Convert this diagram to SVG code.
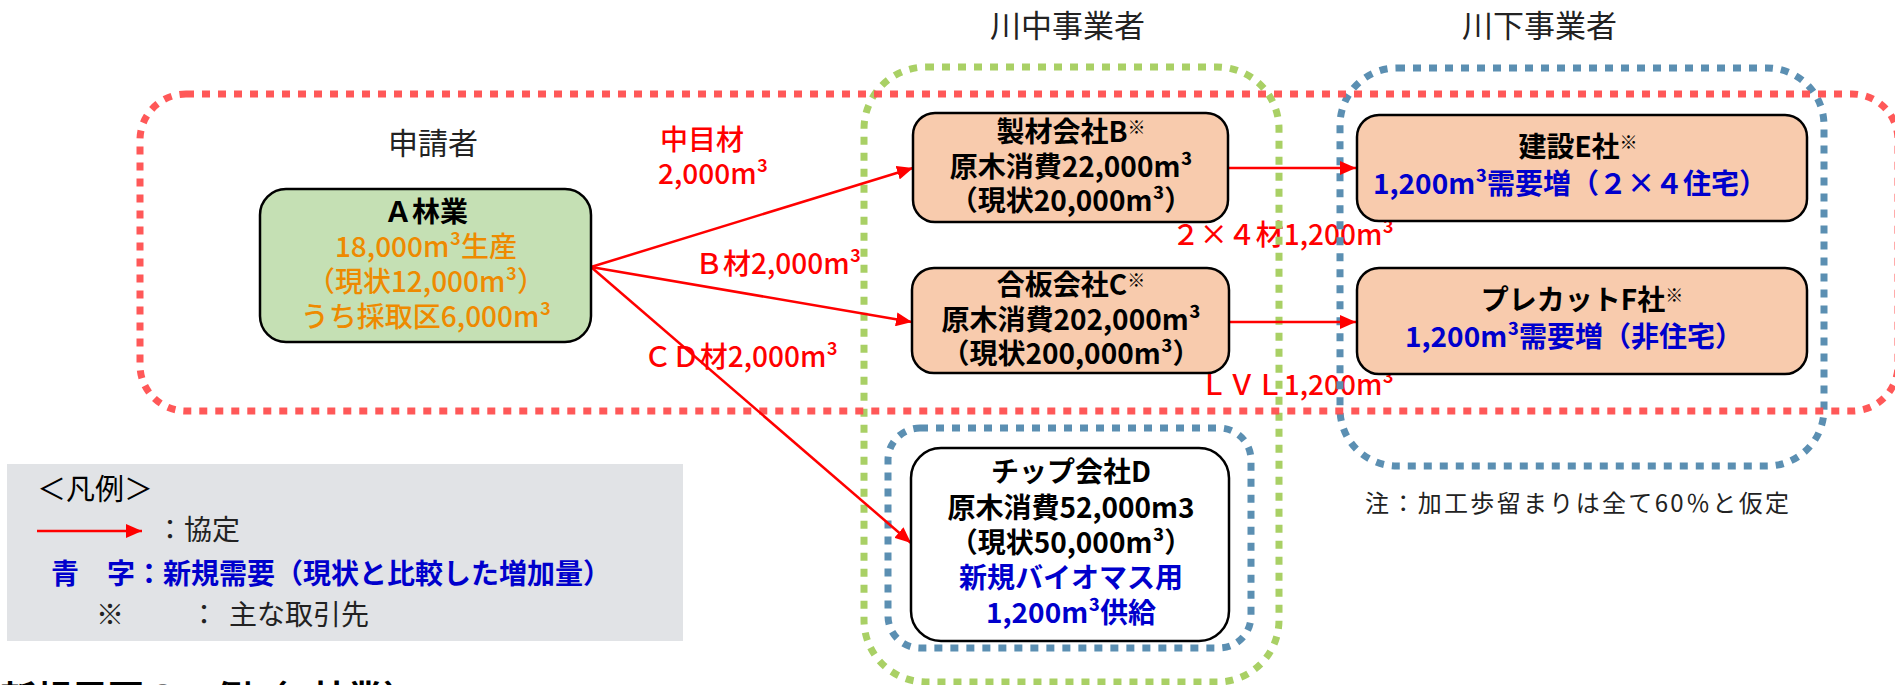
<svg xmlns="http://www.w3.org/2000/svg" width="1895" height="685" viewBox="0 0 1895 685">
<defs>
<style>
text{font-family:"Noto Sans CJK JP","Noto Sans",sans-serif;}
.node{stroke:#000;stroke-width:2.5;}
.peach{fill:#f8cbad;}
.green{fill:#c5e0b4;}
.white{fill:#ffffff;}
.t{font-size:28px;font-weight:bold;fill:#000;text-anchor:middle;}
.blue{fill:#0000cc;}
.orange{fill:#ee8a00;}
.lbl{font-size:28px;font-weight:500;fill:#ff0000;}
.hdr{font-size:31px;fill:#222;}
.grp{fill:none;stroke-width:7;stroke-dasharray:8 8;}
.conn{stroke:#ff0000;stroke-width:2.5;fill:none;marker-end:url(#ah);}
</style>
<marker id="ah" markerUnits="userSpaceOnUse" markerWidth="16" markerHeight="14" viewBox="0 0 16 14" refX="16" refY="7" orient="auto">
<path d="M0,0 L16,7 L0,14 z" fill="#ff0000"/>
</marker>
</defs>
<rect width="1895" height="685" fill="#ffffff"/>

<!-- headers -->
<text class="hdr" x="990" y="37">川中事業者</text>
<text class="hdr" x="1462" y="37">川下事業者</text>
<text class="hdr" x="388" y="154" style="font-size:30px">申請者</text>

<!-- connector labels -->
<g id="labels">
<text class="lbl" x="660" y="150">中目材</text>
<text class="lbl" x="658" y="184">2,000m³</text>
<text class="lbl" x="695" y="274">Ｂ材2,000m³</text>
<text class="lbl" x="838" y="367" text-anchor="end">ＣＤ材2,000m³</text>
<text class="lbl" x="1394" y="245" text-anchor="end">２×４材1,200m³</text>
<text class="lbl" x="1394" y="395" text-anchor="end">ＬＶＬ1,200m³</text>
</g>

<!-- group frames -->
<g id="frames">
<rect id="frame-kawashimo" class="grp" x="1340" y="68" width="484" height="398" rx="57" stroke="#5b8fb2"/>
<rect id="frame-chip" class="grp" x="888" y="428" width="363" height="220" rx="32" stroke="#5b8fb2"/>
<rect id="frame-kawanaka" class="grp" x="864" y="67" width="415" height="615" rx="62" stroke="#a9d065"/>
<rect id="frame-applicant" class="grp" x="140" y="94" width="1758" height="317" rx="46" stroke="#ff4f4f" stroke-opacity="0.95"/>
</g>

<!-- connectors -->
<g id="connectors">
<line class="conn" x1="591" y1="267" x2="913" y2="168"/>
<line class="conn" x1="591" y1="267" x2="912" y2="322"/>
<line class="conn" x1="591" y1="267" x2="911" y2="543"/>
<line class="conn" x1="1229" y1="168" x2="1356" y2="168"/>
<line class="conn" x1="1229" y1="322" x2="1356" y2="322"/>
</g>

<!-- nodes -->
<g id="node-A">
<rect class="node green" x="260" y="189" width="331" height="153" rx="26"/>
<text class="t" x="426" y="222">Ａ林業</text>
<text class="t orange" x="426" y="257" style="font-weight:500">18,000m³生産</text>
<text class="t orange" x="426" y="292" style="font-weight:500">（現状12,000m³）</text>
<text class="t orange" x="426" y="327" style="font-weight:500">うち採取区6,000m³</text>
</g>
<g id="node-B">
<rect class="node peach" x="913" y="113" width="315" height="109" rx="22"/>
<text class="t" x="1071" y="142">製材会社B<tspan style="font-size:18px" dy="-8">※</tspan></text>
<text class="t" x="1071" y="177">原木消費22,000m³</text>
<text class="t" x="1071" y="211">（現状20,000m³）</text>
</g>
<g id="node-C">
<rect class="node peach" x="912" y="268" width="317" height="105" rx="22"/>
<text class="t" x="1071" y="295">合板会社C<tspan style="font-size:18px" dy="-8">※</tspan></text>
<text class="t" x="1071" y="330">原木消費202,000m³</text>
<text class="t" x="1071" y="364">（現状200,000m³）</text>
</g>
<g id="node-D">
<rect class="node white" x="911" y="448" width="318" height="193" rx="30"/>
<text class="t" x="1071" y="482">チップ会社D</text>
<text class="t" x="1071" y="518">原木消費52,000m3</text>
<text class="t" x="1071" y="553">（現状50,000m³）</text>
<text class="t blue" x="1071" y="588">新規バイオマス用</text>
<text class="t blue" x="1071" y="623">1,200m³供給</text>
</g>
<g id="node-E">
<rect class="node peach" x="1357" y="115" width="450" height="106" rx="22"/>
<text class="t" x="1578" y="157">建設E社<tspan style="font-size:18px" dy="-8">※</tspan></text>
<text class="t blue" x="1570" y="194">1,200m³需要増（２×４住宅）</text>
</g>
<g id="node-F">
<rect class="node peach" x="1357" y="268" width="450" height="106" rx="22"/>
<text class="t" x="1582" y="310">プレカットF社<tspan style="font-size:18px" dy="-8">※</tspan></text>
<text class="t blue" x="1574" y="347">1,200m³需要増（非住宅）</text>
</g>

<!-- note -->
<text x="1365" y="512" style="font-size:24px;fill:#222" textLength="424" lengthAdjust="spacing">注：加工歩留まりは全て60％と仮定</text>

<!-- legend -->
<g id="legend">
<rect x="7" y="464" width="676" height="177" fill="#e1e3e6"/>
<text x="37" y="500" style="font-size:29px;fill:#000">＜凡例＞</text>
<line class="conn" x1="37" y1="531" x2="142" y2="531"/>
<text x="156" y="540" style="font-size:28px;fill:#222">：協定</text>
<text x="51" y="584" style="font-size:28px;font-weight:bold;fill:#0000cc">青　字：新規需要（現状と比較した増加量）</text>
<text y="625" style="font-size:28px;fill:#222"><tspan x="96">※</tspan><tspan x="190">：</tspan><tspan x="229">主な取引先</tspan></text>
</g>

<text x="0" y="712" style="font-size:36px;font-weight:bold;fill:#000">新規需要の一例（A林業）</text>
</svg>
